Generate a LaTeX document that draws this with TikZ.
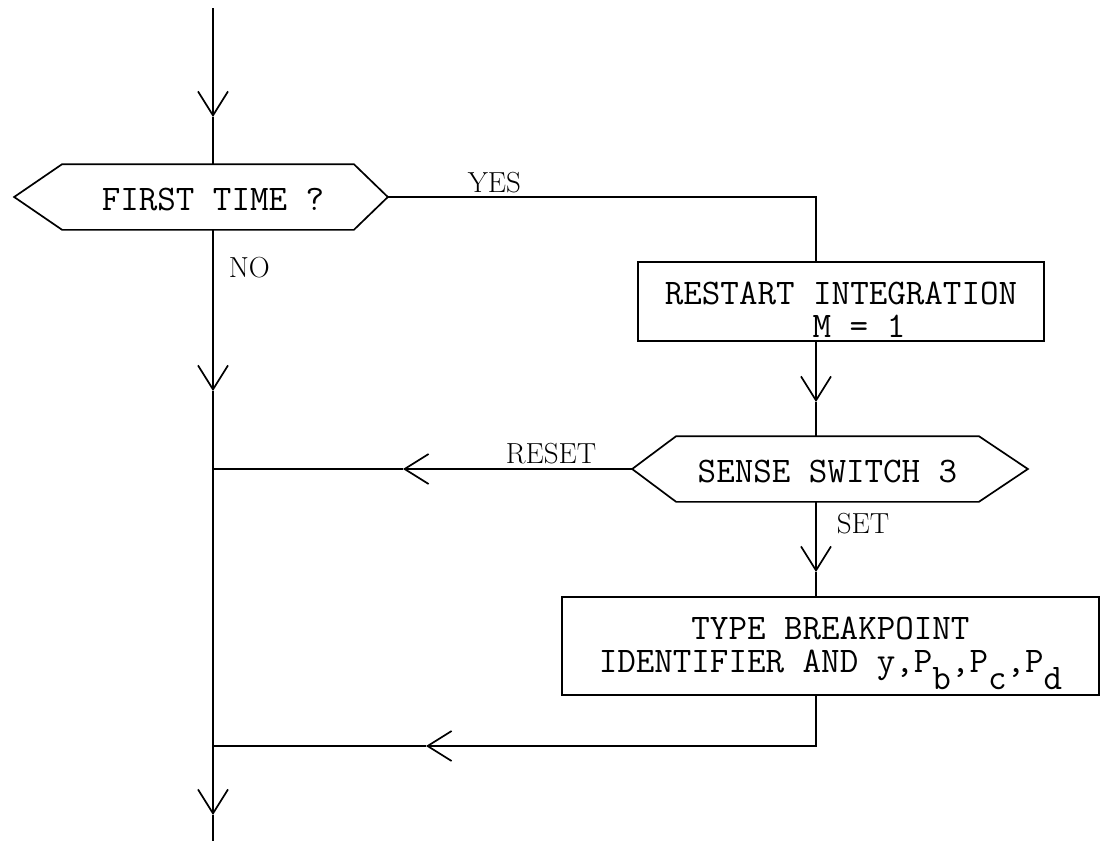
\documentclass[tikz,border=0pt]{standalone}
\usepackage{tikz}
\usetikzlibrary{arrows.meta,positioning}

\begin{document}
\begin{tikzpicture}[x=1pt,y=-1pt,line width=1.7pt,>={Straight Barb[length=24pt,width=30pt]},font=\fontsize{36}{33}\selectfont\ttfamily]
		\tikzstyle{box}=[draw,rectangle,inner sep=0pt,align=center]
		\tikzstyle{hexa}=[rectangle,inner sep=0pt,text height=26pt,text depth=0pt]
		\tikzstyle{lbl}=[anchor=base west,inner sep=0pt,font=\fontsize{29}{29}\selectfont\rmfamily]
		\useasboundingbox (0,0) rectangle (1104,841);
		% decisions and boxes
		\node[hexa,minimum width=290pt,minimum height=64pt] (first) at (208,197) {\hspace*{10pt}FIRST TIME ?};
		\coordinate (firstL) at ([xshift=-48pt]first.west);
		\coordinate (firstR) at ([xshift=34pt]first.east);
		\draw (first.north west) -- (first.north east) -- (firstR) -- (first.south east) -- (first.south west) -- (firstL) -- cycle;
		\node[box,minimum width=406pt,minimum height=79pt] (restart) at (841,301.5) {\rule{0pt}{38pt}RESTART INTEGRATION\\\hspace*{36pt}M = 1};
		\node[hexa,minimum width=301pt,minimum height=64pt] (sense) at (827.5,469) {SENSE SWITCH 3};
		\coordinate (senseL) at ([xshift=-44pt]sense.west);
		\coordinate (senseR) at ([xshift=49pt]sense.east);
		\draw (sense.north west) -- (sense.north east) -- (senseR) -- (sense.south east) -- (sense.south west) -- (senseL) -- cycle;
		\node[box,minimum width=537pt,minimum height=98pt] (type) at (830.5,646) {\rule{0pt}{38pt}TYPE BREAKPOINT\\IDENTIFIER AND y,P\raisebox{-17pt}{b},P\raisebox{-17pt}{c},P\raisebox{-17pt}{d}};
		% labels
		\node[lbl] (yes) at (467,192) {YES};
		\node[lbl] (no) at (228,277) {NO};
		\node[lbl] (reset) at (505,463) {RESET};
		\node[lbl] (set) at (836,533) {SET};
		% main line
		\coordinate (start) at (213,8);
		\coordinate (a1) at (213,117);
		\coordinate (a2) at (213,391);
		\coordinate (jreset) at (213,469);
		\coordinate (jret) at (213,746);
		\coordinate (a5) at (213,815);
		\coordinate (end) at (213,841);
		\draw[->] (start) -- (a1);
		\draw (a1) -- (a1 |- first.north);
		\draw[->] (a1 |- first.south) -- (a2);
		\draw (a2) -- (jreset) -- (jret);
		\draw[->] (jret) -- (a5);
		\draw (a5) -- (end);
		% right column
		\coordinate (ycorner) at (816,197);
		\coordinate (a3) at (816,402);
		\coordinate (a4) at (816,572);
		\coordinate (tcorner) at (816,746);
		\coordinate (ar) at (403,469);
		\coordinate (aret) at (426,746);
		\draw (firstR) -- (ycorner) -- (ycorner |- restart.north);
		\draw[->] (a3 |- restart.south) -- (a3);
		\draw (a3) -- (a3 |- sense.north);
		\draw[->] (senseL) -- (ar);
		\draw (ar) -- (jreset);
		\draw[->] (a4 |- sense.south) -- (a4);
		\draw (a4) -- (a4 |- type.north);
		\draw[->] (tcorner |- type.south) -- (tcorner) -- (aret);
		\draw (aret) -- (jret);
\end{tikzpicture}
\end{document}
